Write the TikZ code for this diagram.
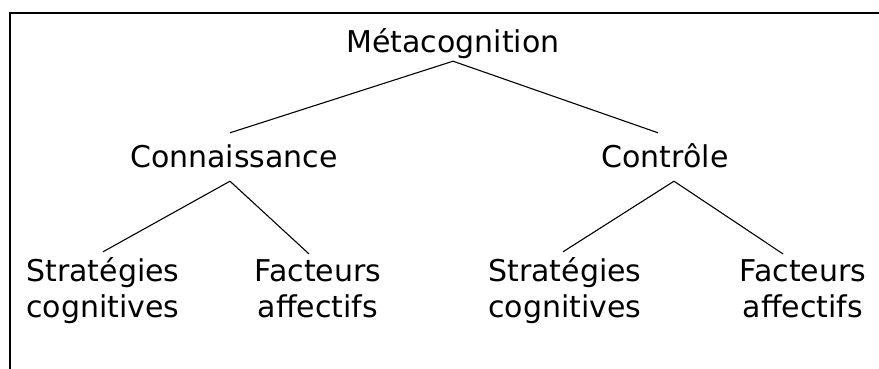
\documentclass[tikz,border=0pt]{standalone}
\usepackage{fontspec}
\setmainfont{DejaVu Sans}

\tikzset{
  lbl/.style={font=\fontsize{30}{36}\selectfont, inner sep=0pt, align=center, anchor=base},
  metanode/.style={lbl, text height=22pt, text depth=8pt},
  midnode/.style={lbl, text height=35pt, text depth=13pt},
  leafnode/.style={lbl, inner ysep=6pt}
}

\begin{document}
\begin{tikzpicture}[x=1pt,y=1pt]
    \useasboundingbox (0,0) rectangle (879,369);
    % frame
    \coordinate (frameA) at (10,0);
    \coordinate (frameB) at (10,356);
    \coordinate (frameC) at (879,356);
    \draw[line width=1.3pt] (frameA) -- (frameB) -- (frameC);
    % tree
    \node[metanode] (meta) at (453,316) {Métacognition};
    \node[midnode] (conn) at (234,201) {Connaissance};
    \node[midnode] (ctrl) at (665,201) {Contrôle};
    \node[leafnode] (stratA) at (103,51) {Stratégies\\cognitives};
    \node[leafnode] (factA) at (318,51) {Facteurs\\affectifs};
    \node[leafnode] (stratB) at (565,51) {Stratégies\\cognitives};
    \node[leafnode] (factB) at (803,51) {Facteurs\\affectifs};
    \path[line width=1.1pt]
      (meta.south) edge ([xshift=-4pt]conn.north) edge ([xshift=-7pt]ctrl.north)
      ([xshift=-4pt]conn.south) edge (stratA.north) edge ([xshift=-9pt]factA.north)
      ([xshift=9pt]ctrl.south) edge ([xshift=-2pt]stratB.north) edge ([xshift=-20pt]factB.north);
\end{tikzpicture}
\end{document}
